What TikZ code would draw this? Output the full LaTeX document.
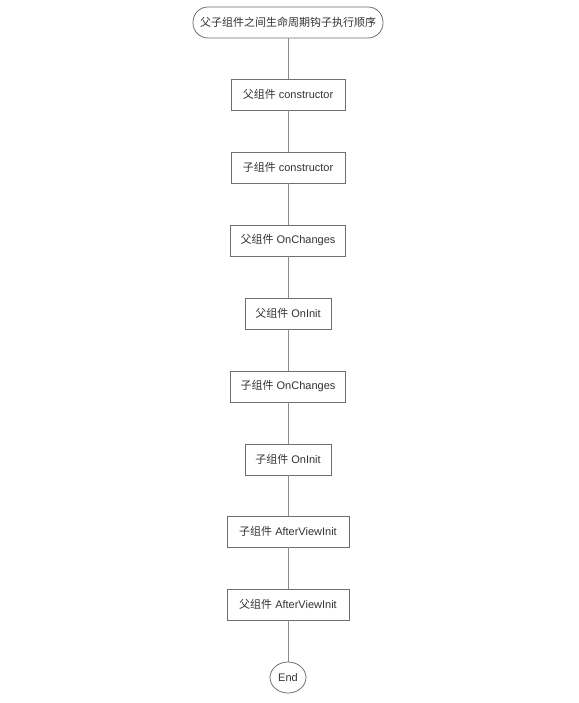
\documentclass[tikz,border=0pt]{standalone}
\usepackage{fontspec}
\setmainfont{Liberation Sans}
\newfontfamily\cjk{Noto Sans CJK SC}
\usepackage{tikz}
\usetikzlibrary{shapes.geometric}

\definecolor{linegray}{RGB}{110,110,110}
\definecolor{textgray}{RGB}{50,50,50}

\tikzset{
    stepbox/.style={draw=linegray, line width=0.8pt, rectangle, minimum height=31pt, inner xsep=8pt, text=textgray, font=\fontsize{11}{13}\selectfont},
    termbox/.style={draw=linegray, line width=0.8pt, rounded corners=15pt, minimum height=31pt, inner xsep=7pt, text=textgray, font=\fontsize{11}{13}\selectfont},
    endbox/.style={draw=linegray, line width=0.8pt, ellipse, minimum width=36pt, minimum height=31pt, inner sep=0pt, text=textgray, font=\fontsize{11}{13}\selectfont},
    link/.style={draw=linegray!80, line width=0.8pt}
}

\begin{document}
\begin{tikzpicture}[x=1pt,y=-1pt]
    \useasboundingbox (0,0) rectangle (578,703);

    \node [termbox] (start) at (288,22.5) {{\cjk 父子组件之间生命周期钩子执行顺序}};
    \node [stepbox, minimum width=114pt] (pctor) at (288,94.5) {{\cjk 父组件} constructor};
    \node [stepbox, minimum width=114pt] (cctor) at (288,167.5) {{\cjk 子组件} constructor};
    \node [stepbox, minimum width=115pt] (pchg) at (288,240.5) {{\cjk 父组件} OnChanges};
    \node [stepbox, minimum width=86pt] (pinit) at (288,313.5) {{\cjk 父组件} OnInit};
    \node [stepbox, minimum width=115pt] (cchg) at (288,386.5) {{\cjk 子组件} OnChanges};
    \node [stepbox, minimum width=86pt] (cinit) at (288,459.5) {{\cjk 子组件} OnInit};
    \node [stepbox, minimum width=122pt] (cview) at (288,531.5) {{\cjk 子组件} AfterViewInit};
    \node [stepbox, minimum width=122pt] (pview) at (288,604.5) {{\cjk 父组件} AfterViewInit};
    \node [endbox] (end) at (288,677.5) {End};

    \draw [link] (start) -- (pctor);
    \draw [link] (pctor) -- (cctor);
    \draw [link] (cctor) -- (pchg);
    \draw [link] (pchg) -- (pinit);
    \draw [link] (pinit) -- (cchg);
    \draw [link] (cchg) -- (cinit);
    \draw [link] (cinit) -- (cview);
    \draw [link] (cview) -- (pview);
    \draw [link] (pview) -- (end);
\end{tikzpicture}
\end{document}
